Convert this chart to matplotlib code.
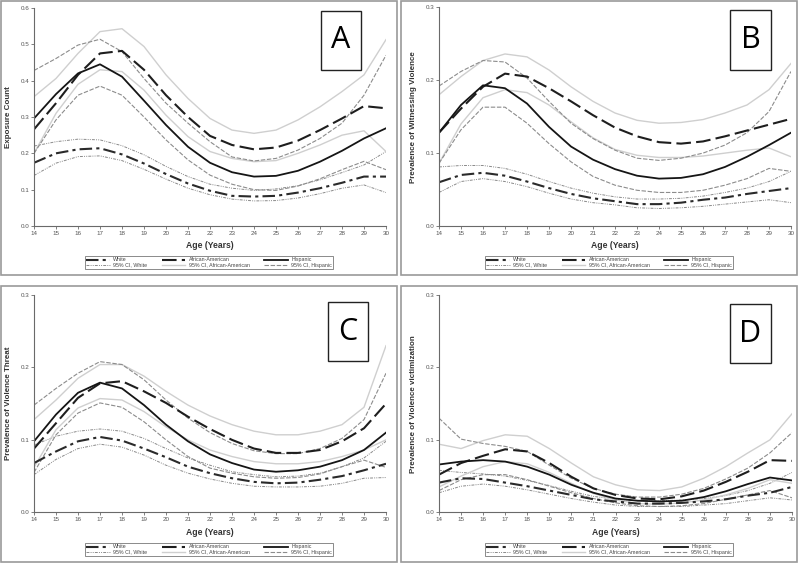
import matplotlib
matplotlib.use("Agg")
import matplotlib.pyplot as plt
from matplotlib.patches import Rectangle
from matplotlib.lines import Line2D

ages = list(range(14, 31))
x_ticks = list(range(14, 31))

# Panel A: Exposure Count
A_white    = [0.174,0.200,0.211,0.214,0.197,0.172,0.143,0.117,0.097,0.083,0.081,0.083,0.092,0.104,0.119,0.136,0.136]
A_white_lo = [0.139,0.173,0.191,0.193,0.180,0.156,0.129,0.104,0.086,0.074,0.069,0.070,0.077,0.089,0.104,0.113,0.092]
A_white_hi = [0.220,0.232,0.239,0.237,0.221,0.196,0.164,0.136,0.115,0.104,0.098,0.102,0.111,0.127,0.147,0.168,0.205]
A_aa       = [0.266,0.338,0.416,0.475,0.482,0.430,0.360,0.300,0.248,0.223,0.211,0.216,0.235,0.264,0.296,0.330,0.324]
A_aa_lo    = [0.200,0.310,0.390,0.430,0.425,0.374,0.305,0.246,0.205,0.186,0.177,0.180,0.200,0.223,0.250,0.262,0.205]
A_aa_hi    = [0.356,0.406,0.475,0.535,0.543,0.494,0.416,0.351,0.296,0.264,0.255,0.264,0.292,0.328,0.370,0.416,0.513]
A_hisp     = [0.296,0.363,0.420,0.445,0.411,0.345,0.278,0.218,0.174,0.148,0.136,0.138,0.152,0.177,0.207,0.241,0.269]
A_hisp_lo  = [0.200,0.292,0.360,0.385,0.360,0.300,0.237,0.182,0.140,0.115,0.100,0.098,0.110,0.130,0.155,0.178,0.155]
A_hisp_hi  = [0.428,0.461,0.498,0.514,0.480,0.406,0.338,0.283,0.232,0.190,0.179,0.186,0.209,0.241,0.283,0.360,0.470]

# Panel B: Witnessing Violence
B_white    = [0.060,0.070,0.073,0.069,0.061,0.052,0.044,0.038,0.034,0.030,0.030,0.032,0.036,0.039,0.044,0.048,0.052]
B_white_lo = [0.046,0.061,0.065,0.061,0.054,0.045,0.037,0.032,0.029,0.025,0.024,0.025,0.027,0.030,0.033,0.036,0.032]
B_white_hi = [0.081,0.083,0.083,0.079,0.071,0.061,0.052,0.045,0.040,0.037,0.037,0.038,0.041,0.046,0.052,0.061,0.075]
B_aa       = [0.128,0.161,0.191,0.209,0.205,0.189,0.171,0.152,0.135,0.123,0.115,0.113,0.116,0.123,0.131,0.139,0.147]
B_aa_lo    = [0.086,0.140,0.176,0.187,0.183,0.166,0.143,0.121,0.105,0.097,0.094,0.094,0.096,0.100,0.104,0.107,0.095]
B_aa_hi    = [0.180,0.205,0.227,0.236,0.232,0.214,0.191,0.171,0.155,0.145,0.141,0.142,0.146,0.155,0.166,0.187,0.223]
B_hisp     = [0.128,0.166,0.193,0.189,0.168,0.136,0.109,0.091,0.078,0.069,0.065,0.066,0.071,0.081,0.095,0.111,0.128]
B_hisp_lo  = [0.086,0.132,0.163,0.163,0.141,0.113,0.088,0.068,0.056,0.049,0.046,0.046,0.049,0.056,0.065,0.079,0.075]
B_hisp_hi  = [0.192,0.212,0.227,0.225,0.203,0.171,0.141,0.120,0.104,0.093,0.090,0.093,0.100,0.111,0.128,0.157,0.212]

# Panel C: Violence Threat
C_white    = [0.068,0.084,0.098,0.104,0.099,0.088,0.076,0.063,0.054,0.047,0.042,0.040,0.041,0.045,0.050,0.058,0.067]
C_white_lo = [0.052,0.073,0.088,0.094,0.090,0.079,0.065,0.054,0.046,0.040,0.036,0.035,0.035,0.036,0.040,0.047,0.048]
C_white_hi = [0.093,0.105,0.112,0.115,0.112,0.102,0.088,0.075,0.065,0.056,0.052,0.049,0.050,0.054,0.063,0.075,0.098]
C_aa       = [0.088,0.123,0.158,0.178,0.181,0.167,0.151,0.132,0.115,0.100,0.088,0.082,0.082,0.086,0.098,0.116,0.150]
C_aa_lo    = [0.062,0.114,0.144,0.157,0.155,0.139,0.118,0.100,0.086,0.077,0.070,0.067,0.067,0.070,0.077,0.086,0.100]
C_aa_hi    = [0.128,0.155,0.185,0.204,0.204,0.188,0.167,0.148,0.133,0.121,0.112,0.107,0.107,0.112,0.121,0.145,0.230]
C_hisp     = [0.098,0.135,0.165,0.179,0.171,0.148,0.121,0.098,0.080,0.068,0.059,0.056,0.058,0.063,0.072,0.086,0.110]
C_hisp_lo  = [0.055,0.107,0.137,0.151,0.145,0.125,0.100,0.077,0.061,0.054,0.049,0.047,0.048,0.053,0.063,0.072,0.062]
C_hisp_hi  = [0.148,0.171,0.192,0.208,0.204,0.183,0.155,0.130,0.110,0.095,0.085,0.081,0.081,0.088,0.102,0.128,0.192]

# Panel D: Violence victimization
D_white    = [0.041,0.047,0.046,0.041,0.036,0.030,0.024,0.018,0.015,0.012,0.012,0.013,0.015,0.018,0.023,0.027,0.035]
D_white_lo = [0.027,0.036,0.039,0.036,0.031,0.025,0.019,0.014,0.010,0.008,0.008,0.008,0.010,0.012,0.016,0.020,0.017]
D_white_hi = [0.058,0.055,0.053,0.050,0.044,0.037,0.029,0.022,0.018,0.016,0.016,0.017,0.019,0.023,0.030,0.040,0.055]
D_aa       = [0.052,0.068,0.078,0.087,0.084,0.068,0.049,0.033,0.024,0.019,0.018,0.022,0.030,0.042,0.056,0.072,0.071]
D_aa_lo    = [0.035,0.050,0.063,0.070,0.067,0.055,0.040,0.026,0.017,0.012,0.011,0.013,0.017,0.024,0.033,0.045,0.040]
D_aa_hi    = [0.094,0.088,0.099,0.107,0.105,0.088,0.068,0.049,0.038,0.031,0.030,0.035,0.047,0.063,0.082,0.100,0.136]
D_hisp     = [0.066,0.070,0.072,0.070,0.063,0.052,0.038,0.027,0.019,0.016,0.015,0.016,0.021,0.029,0.039,0.048,0.044]
D_hisp_lo  = [0.030,0.045,0.052,0.052,0.045,0.036,0.027,0.019,0.013,0.009,0.008,0.009,0.012,0.018,0.024,0.030,0.020]
D_hisp_hi  = [0.130,0.101,0.095,0.091,0.084,0.065,0.047,0.033,0.025,0.021,0.021,0.025,0.033,0.046,0.061,0.082,0.110]

legend_labels = ["White", "95% CI, White", "African-American",
                 "95% CI, African-American", "Hispanic", "95% CI, Hispanic"]

plt.rcParams['font.family'] = ['Liberation Sans', 'DejaVu Sans']

W, H = 800, 563
fig = plt.figure(figsize=(8, 5.63), dpi=100)
fig.patch.set_facecolor('white')

styles = {
    "white":    dict(color='#2a2a2a', lw=1.5, ls=(0, (6, 2, 1.5, 2))),
    "white_ci": dict(color='#8a8a8a', lw=0.7, ls=(0, (3, 1.2, 1, 1.2, 1, 1.2))),
    "aa":       dict(color='#1e1e1e', lw=1.5, ls=(0, (7, 2.5))),
    "aa_ci":    dict(color='#cfcfcf', lw=1.0, ls='-'),
    "hisp":     dict(color='#151515', lw=1.3, ls='-'),
    "hisp_ci":  dict(color='#8c8c8c', lw=0.8, ls=(0, (4, 1.5))),
}

panels = [
    dict(letter="A", box=(1, 1, 397, 275), ax=(34, 386, 226, 8), ymax=0.6,
         yticks=[0.0, 0.1, 0.2, 0.3, 0.4, 0.5, 0.6], ylabel="Exposure Count",
         lbox=(321, 11, 361, 70),
         data=(A_white, A_white_lo, A_white_hi, A_aa, A_aa_lo, A_aa_hi, A_hisp, A_hisp_lo, A_hisp_hi)),
    dict(letter="B", box=(401, 1, 797, 275), ax=(439, 791, 226, 7.3), ymax=0.3,
         yticks=[0.0, 0.1, 0.2, 0.3], ylabel="Prevalence of Witnessing Violence",
         lbox=(730, 10, 771, 70),
         data=(B_white, B_white_lo, B_white_hi, B_aa, B_aa_lo, B_aa_hi, B_hisp, B_hisp_lo, B_hisp_hi)),
    dict(letter="C", box=(1, 286, 397, 562), ax=(34, 386, 512.3, 295), ymax=0.3,
         yticks=[0.0, 0.1, 0.2, 0.3], ylabel="Prevalence of Violence Threat",
         lbox=(328, 302, 368, 361),
         data=(C_white, C_white_lo, C_white_hi, C_aa, C_aa_lo, C_aa_hi, C_hisp, C_hisp_lo, C_hisp_hi)),
    dict(letter="D", box=(401, 286, 797, 562), ax=(439, 792, 512.3, 295), ymax=0.3,
         yticks=[0.0, 0.1, 0.2, 0.3], ylabel="Prevalence of Violence victimization",
         lbox=(730, 304, 771, 363),
         data=(D_white, D_white_lo, D_white_hi, D_aa, D_aa_lo, D_aa_hi, D_hisp, D_hisp_lo, D_hisp_hi)),
]

def fx(px):
    return px / W

def fy(py):
    return 1 - py / H

for p in panels:
    x0, y0, x1, y1 = p["box"]
    fig.patches.append(Rectangle((fx(x0), fy(y1)), fx(x1 - x0), (y1 - y0) / H,
                                 transform=fig.transFigure, fill=False,
                                 edgecolor='#9a9a9a', lw=1.2, zorder=0))
    l, r, b, t = p["ax"]
    ax = fig.add_axes([fx(l), fy(b), fx(r - l), (b - t) / H])
    ax.set_facecolor('none')
    w, wl, wh, a, al, ah, h, hl, hh = p["data"]
    ax.plot(ages, wl, **styles["white_ci"])
    ax.plot(ages, wh, **styles["white_ci"])
    ax.plot(ages, al, **styles["aa_ci"])
    ax.plot(ages, ah, **styles["aa_ci"])
    ax.plot(ages, hl, **styles["hisp_ci"])
    ax.plot(ages, hh, **styles["hisp_ci"])
    ax.plot(ages, w, **styles["white"])
    ax.plot(ages, a, **styles["aa"])
    ax.plot(ages, h, **styles["hisp"])
    ax.set_xlim(14, 30)
    ax.set_ylim(0, p["ymax"])
    ax.set_xticks(x_ticks)
    ax.set_xticklabels([str(v) for v in x_ticks])
    ax.set_yticks(p["yticks"])
    ax.set_yticklabels([f"{v:.1f}" for v in p["yticks"]])
    for s in ['top', 'right']:
        ax.spines[s].set_visible(False)
    for s in ['left', 'bottom']:
        ax.spines[s].set_color('#6a6a6a')
        ax.spines[s].set_linewidth(0.8)
    ax.tick_params(axis='both', labelsize=4.5, colors='#6a6a6a', labelcolor='#555555',
                   length=2, width=0.6, pad=1.5)
    ax.set_xlabel("Age (Years)", fontsize=6.2, fontweight='bold', color='#333333', labelpad=4)
    ax.set_ylabel(p["ylabel"], fontsize=5.8, fontweight='bold', color='#333333', labelpad=6)

    # letter box
    lx0, ly0, lx1, ly1 = p["lbox"]
    fig.patches.append(Rectangle((fx(lx0), fy(ly1)), fx(lx1 - lx0), (ly1 - ly0) / H,
                                 transform=fig.transFigure, fill=True, facecolor='white',
                                 edgecolor='#222222', lw=1.0, zorder=5))
    fig.text(fx((lx0 + lx1) / 2), fy((ly0 + ly1) / 2), p["letter"], ha='center', va='center',
             fontsize=22, family=['Open Sans', 'DejaVu Sans'], color='black', zorder=6)

    # legend
    handles = [Line2D([], [], **styles["white"]), Line2D([], [], **styles["white_ci"]),
               Line2D([], [], **styles["aa"]), Line2D([], [], **styles["aa_ci"]),
               Line2D([], [], **styles["hisp"]), Line2D([], [], **styles["hisp_ci"])]
    lcx = fx((x0 + x1) / 2 + 10)
    lcy = fy(y1 - 12.5)
    leg = fig.legend(handles, legend_labels, ncol=3, loc='center', bbox_to_anchor=(lcx, lcy),
                     fontsize=3.8, frameon=True, fancybox=False, edgecolor='#555555',
                     handlelength=4.5, handletextpad=0.6, columnspacing=2.8,
                     labelspacing=0.05, borderpad=0.25, borderaxespad=0)
    leg.get_frame().set_linewidth(0.6)
    for txt in leg.get_texts():
        txt.set_color('#444444')

fig.savefig("out.png", dpi=100, facecolor='white')
